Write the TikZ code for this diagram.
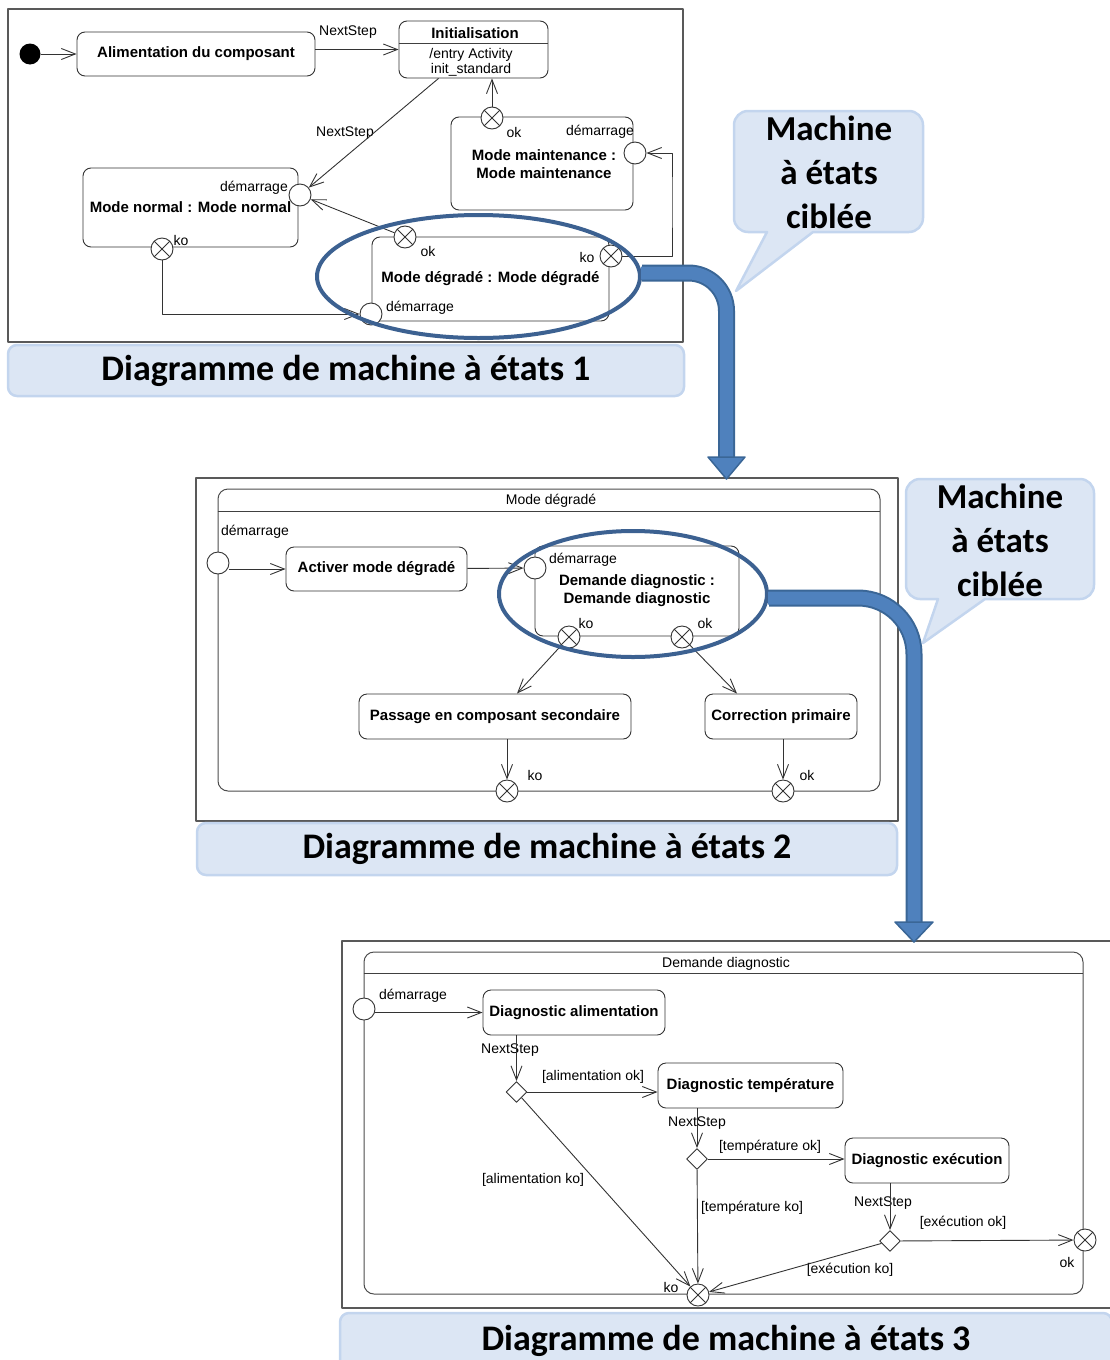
\documentclass[tikz,border=0pt]{standalone}
\usepackage{fontspec}
\setmainfont{Liberation Sans}
\newfontfamily\calfont{Carlito}
\usetikzlibrary{arrows.meta,shapes.geometric}

\definecolor{barfill}{HTML}{DCE6F4}
\definecolor{barline}{HTML}{C3D5EE}
\definecolor{focusring}{HTML}{3C6191}
\definecolor{bandfill}{HTML}{4F81BD}
\definecolor{bandedge}{HTML}{3A6696}

\newcommand{\umlfont}{\fontsize{14}{15}\selectfont}
\newcommand{\umlbold}{\fontsize{15}{18}\selectfont\bfseries}
\newcommand{\titlefont}{\calfont\bfseries\fontsize{36}{40}\selectfont}
\newcommand{\bubblefont}{\calfont\bfseries\fontsize{35}{44}\selectfont}

\tikzset{
	panel/.style={draw=black!65, line width=1.2pt},
	titlebar/.style={draw=barline, fill=barfill, line width=2.5pt, rounded corners=9pt, font=\titlefont},
	bubble/.style={draw=barline, fill=barfill, line width=2.5pt},
	umlstate/.style={draw=black!80, fill=white, line width=0.9pt, rounded corners=8pt, font=\umlbold, align=center, inner sep=2pt},
	composite/.style={draw=black!70, line width=1pt, rounded corners=10pt},
	sepline/.style={draw=black!75, line width=0.9pt},
	startdot/.style={circle, fill=black, minimum size=21pt, inner sep=0pt},
	entrypt/.style={circle, draw=black!80, fill=white, line width=0.9pt, minimum size=22pt, inner sep=0pt},
	exitpt/.style={entrypt, path picture={
		\draw[line width=0.9pt] (path picture bounding box.north west) -- (path picture bounding box.south east)
			(path picture bounding box.north east) -- (path picture bounding box.south west);}},
	choice/.style={diamond, draw=black!80, fill=white, line width=0.9pt, minimum width=21pt, minimum height=21pt, inner sep=0pt},
	lbl/.style={font=\umlfont, inner sep=1pt},
	trans/.style={draw=black!80, line width=0.9pt, -{Straight Barb[length=14pt,width=11pt]}},
	ring/.style={ellipse, draw=focusring, line width=4pt, inner sep=0pt},
}

\begin{document}
\begin{tikzpicture}[x=1pt,y=-1pt,line join=round]
	\useasboundingbox (0,0) rectangle (1109,1360);

	%diagram 1
	\draw[panel] (8,9) rectangle (683,342);
	\node[startdot] (start) at (30,54) {};
	\node[umlstate, minimum width=238pt, minimum height=44pt] (alim) at (196,54) {Alimentation du composant};
	\node[umlstate, minimum width=149pt, minimum height=57pt] (initst) at (473.5,49.5) {};
	\draw[sepline] (initst.north west) ++(0,23) -- ++(149,0);
	\node[font=\umlbold] (initname) at (475,33) {Initialisation};
	\node[lbl, align=center] (initdo) at (471,62.5) {/entry Activity\\init\_standard};
	\node[umlstate, minimum width=182pt, minimum height=93pt] (maint) at (542,163.5) {};
	\node[font=\umlbold, align=center] (maintname) at (544,164) {Mode maintenance :\\Mode maintenance};
	\node[umlstate, minimum width=215pt, minimum height=79pt] (normal) at (190.5,207.5) {Mode normal : Mode normal};
	\node[umlstate, minimum width=237pt, minimum height=84pt] (degr) at (490.5,279) {Mode dégradé : Mode dégradé};

	%entry and exit points
	\node[entrypt] (normalin) at (300,195) {};
	\node[exitpt] (normalko) at (162,249) {};
	\node[exitpt] (maintok) at (492,118) {};
	\node[entrypt] (maintin) at (635,153) {};
	\node[exitpt] (degrok) at (405,237) {};
	\node[exitpt] (degrko) at (611,256) {};
	\node[entrypt] (degrin) at (371,314) {};

	\node[lbl] (nsA) at (348,32) {NextStep};
	\node[lbl] (nsB) at (345,133) {NextStep};
	\node[lbl, anchor=east] (normalinlbl) at (289,188) {démarrage};
	\node[lbl] (normalkolbl) at (181,240) {ko};
	\node[lbl] (maintoklbl) at (514,132) {ok};
	\node[lbl] (maintinlbl) at (600,132) {démarrage};
	\node[lbl] (degroklbl) at (428,251) {ok};
	\node[lbl] (degrkolbl) at (587,257) {ko};
	\node[lbl] (degrinlbl) at (420,308) {démarrage};

	%transitions
	\draw[trans] (start) -- (alim);
	\draw[trans] (alim.east |- initst.west) -- (initst.west);
	\draw[trans] ([xshift=-35pt]initst.south) -- (normalin);
	\draw[trans] (maintok) -- (maintok |- initst.south);
	\draw[trans] (degrok) -- (normalin);
	\draw[trans] (normalko) |- (degrin);
	\coordinate (maintret) at (672,200);
	\draw[trans] (degrko) -| (maintret) |- (maintin);

	\node[titlebar, minimum width=676pt, minimum height=51pt] (title1) at (346,370.5) {Diagramme de machine à états 1};

	%diagram 2
	\draw[panel] (196,478) rectangle (898,821);
	\node[composite, minimum width=662pt, minimum height=302pt] (degrtwo) at (549,640) {};
	\draw[sepline] (degrtwo.north west) ++(0,23) -- ++(662,0);
	\node[lbl] (degrtwohead) at (551,501) {Mode dégradé};
	\node[entrypt] (degrtwoin) at (218,563) {};
	\node[lbl] (degrtwoinlbl) at (255,532) {démarrage};
	\node[umlstate, minimum width=181pt, minimum height=44pt] (activer) at (376.5,569) {Activer mode dégradé};
	\node[umlstate, minimum width=204pt, minimum height=90pt] (diag) at (637,591) {Demande diagnostic :\\Demande diagnostic};
	\node[entrypt] (diagin) at (535,568) {};
	\node[exitpt] (diagko) at (569,637) {};
	\node[exitpt] (diagok) at (682,637) {};
	\node[lbl] (diaginlbl) at (583,560) {démarrage};
	\node[lbl] (diagkolbl) at (586,623) {ko};
	\node[lbl] (diagoklbl) at (705,623) {ok};
	\node[umlstate, minimum width=272pt, minimum height=45pt] (passage) at (495,716.5) {Passage en composant secondaire};
	\node[umlstate, minimum width=152pt, minimum height=45pt] (corr) at (781,716.5) {Correction primaire};
	\node[exitpt] (degrtwoko) at (507,791) {};
	\node[exitpt] (degrtwook) at (783,791) {};
	\node[lbl] (degrtwokolbl) at (535,775) {ko};
	\node[lbl] (degrtwooklbl) at (807,775) {ok};

	\draw[trans] (degrtwoin.east |- activer.west) -- (activer.west);
	\draw[trans] (activer) -- (diagin);
	\draw[trans] (diagko) -- ([xshift=22pt]passage.north);
	\draw[trans] (diagok) -- ([xshift=-44pt]corr.north);
	\draw[trans] (degrtwoko |- passage.south) -- (degrtwoko);
	\draw[trans] (degrtwook |- corr.south) -- (degrtwook);

	\node[titlebar, minimum width=700pt, minimum height=52pt] (title2) at (547,849) {Diagramme de machine à états 2};

	%diagram 3
	\draw[panel] (342,941) rectangle (1115,1308);
	\node[composite, minimum width=719pt, minimum height=342pt] (diagthree) at (723.5,1123) {};
	\draw[sepline] (diagthree.north west) ++(0,22) -- ++(719,0);
	\node[lbl] (diagthreehead) at (726,964) {Demande diagnostic};
	\node[entrypt] (diagthreein) at (364,1009) {};
	\node[lbl] (diagthreeinlbl) at (413,996) {démarrage};
	\node[umlstate, minimum width=182pt, minimum height=45pt] (dalim) at (574,1012.5) {Diagnostic alimentation};
	\node[umlstate, minimum width=185pt, minimum height=45pt] (dtemp) at (750.5,1085.5) {Diagnostic température};
	\node[umlstate, minimum width=164pt, minimum height=45pt] (dexec) at (927,1160.5) {Diagnostic exécution};
	\node[choice] (chalim) at (516.5,1092) {};
	\node[choice] (chtemp) at (697,1159) {};
	\node[choice] (chexec) at (890,1241) {};
	\node[exitpt] (diagthreeko) at (698,1295) {};
	\node[exitpt] (diagthreeok) at (1085,1240) {};

	\node[lbl] (nsC) at (510,1050) {NextStep};
	\node[lbl] (alimok) at (593,1077) {[alimentation ok]};
	\node[lbl] (alimko) at (533,1180) {[alimentation ko]};
	\node[lbl] (nsD) at (697,1123) {NextStep};
	\node[lbl] (tempok) at (770,1147) {[température ok]};
	\node[lbl] (tempko) at (752,1208) {[température ko]};
	\node[lbl] (nsE) at (883,1203) {NextStep};
	\node[lbl] (execok) at (963,1223) {[exécution ok]};
	\node[lbl] (execko) at (850,1270) {[exécution ko]};
	\node[lbl] (diagthreeoklbl) at (1067,1262) {ok};
	\node[lbl] (diagthreekolbl) at (671,1287) {ko};

	\draw[trans] (diagthreein.east |- dalim.west) -- (dalim.west);
	\draw[trans] (chalim |- dalim.south) -- (chalim);
	\draw[trans] (chalim) -- (chalim -| dtemp.west);
	\draw[trans] (chalim) -- (diagthreeko);
	\draw[trans] (chtemp |- dtemp.south) -- (chtemp);
	\draw[trans] (chtemp) -- (chtemp -| dexec.west);
	\draw[trans] (chtemp) -- (diagthreeko);
	\draw[trans] (chexec |- dexec.south) -- (chexec);
	\draw[trans] (chexec) -- (diagthreeok);
	\draw[trans] (chexec) -- (diagthreeko);

	\node[titlebar, minimum width=772pt, minimum height=55pt] (title3) at (726,1340.5) {Diagramme de machine à états 3};

	%focus rings and big arrows
	\node[ring, minimum width=323pt, minimum height=123pt] (ringone) at (478.5,276.5) {};
	\coordinate (intwo) at (726.5,479);
	\draw[line width=17pt, draw=bandedge, rounded corners=38pt] ([yshift=3.5pt]ringone.east) -| ([yshift=21pt]intwo);
	\draw[line width=13pt, draw=bandfill, rounded corners=38pt] ([yshift=3.5pt,xshift=-1pt]ringone.east) -| ([yshift=21pt]intwo);
	\filldraw[draw=bandedge, fill=bandfill, line width=1.5pt] ([xshift=-18.5pt,yshift=22pt]intwo) -- ([xshift=18.5pt,yshift=22pt]intwo) -- (intwo) -- cycle;

	\node[ring, minimum width=268pt, minimum height=126pt] (ringtwo) at (633,594) {};
	\coordinate (inthree) at (914,942);
	\draw[line width=17pt, draw=bandedge, rounded corners=56pt] ([yshift=-4pt]ringtwo.east) -| ([yshift=19pt]inthree);
	\draw[line width=13pt, draw=bandfill, rounded corners=56pt] ([yshift=-4pt,xshift=-1pt]ringtwo.east) -| ([yshift=19pt]inthree);
	\filldraw[draw=bandedge, fill=bandfill, line width=1.5pt] ([xshift=-19pt,yshift=20pt]inthree) -- ([xshift=19pt,yshift=20pt]inthree) -- (inthree) -- cycle;

	%callouts
	\draw[bubble] (850,232) [sharp corners] -- (813,232) -- (736,291) -- (767,232) [rounded corners=14pt] -- (734,232) -- (734,111) -- (923,111) -- (923,232) -- cycle;
	\node[font=\bubblefont, align=center] (bubbleone) at (829,172) {Machine\\à états\\ciblée};
	\draw[bubble] (1040,599) [sharp corners] -- (985,599) -- (923,643) -- (938,599) [rounded corners=14pt] -- (906,599) -- (906,479) -- (1094,479) -- (1094,599) -- cycle;
	\node[font=\bubblefont, align=center] (bubbletwo) at (1000,540) {Machine\\à états\\ciblée};
\end{tikzpicture}
\end{document}
